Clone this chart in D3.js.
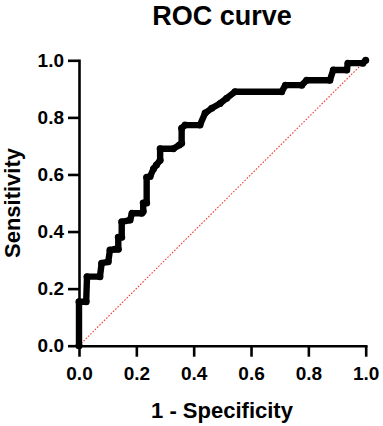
<!DOCTYPE html>
<html><head><meta charset="utf-8">
<script src="https://cdn.jsdelivr.net/npm/d3@7"></script>
<style>
html,body{margin:0;padding:0;background:#fff;}
svg{display:block;}
text{font-family:"Liberation Sans",Arial,Helvetica,sans-serif;font-weight:bold;fill:#000;}
</style></head>
<body>
<svg id="chart" width="383" height="426"></svg>
<script>
const title = "ROC curve";
const xLabel = "1 - Specificity";
const yLabel = "Sensitivity";
const tickValues = [0, 0.2, 0.4, 0.6, 0.8, 1.0];

// ROC curve points (1 - specificity, sensitivity)
const fpr = [0, 0, 0.025, 0.028, 0.073, 0.079, 0.102, 0.108, 0.125, 0.137, 0.137, 0.149, 0.149, 0.178, 0.185, 0.219, 0.224, 0.224, 0.236, 0.236, 0.248, 0.26, 0.27, 0.283, 0.283, 0.329, 0.35, 0.358, 0.358, 0.37, 0.422, 0.44, 0.463, 0.492, 0.515, 0.544, 0.707, 0.72, 0.777, 0.794, 0.875, 0.887, 0.934, 0.938, 0.99, 1.0];
const tpr = [0, 0.154, 0.154, 0.242, 0.242, 0.289, 0.294, 0.335, 0.338, 0.338, 0.38, 0.38, 0.434, 0.44, 0.464, 0.464, 0.47, 0.50, 0.50, 0.59, 0.593, 0.62, 0.633, 0.65, 0.69, 0.69, 0.703, 0.709, 0.762, 0.773, 0.773, 0.815, 0.832, 0.849, 0.867, 0.89, 0.89, 0.913, 0.913, 0.93, 0.93, 0.966, 0.966, 0.99, 0.99, 1.0];
// reference line
const refX = [0, 1];
const refY = [0, 1];

const svg = d3.select("#chart");
const x = d3.scaleLinear().domain([0, 1]).range([79, 365.7]);
const y = d3.scaleLinear().domain([0, 1]).range([345.7, 60.3]);

// reference diagonal
svg.append("path")
  .datum(refX.map((d, i) => [d, refY[i]]))
  .attr("d", d3.line().x(d => x(d[0])).y(d => y(d[1])))
  .attr("fill", "none")
  .attr("stroke", "#f03c32")
  .attr("stroke-width", 1.1)
  .attr("stroke-dasharray", "1.6,1.6");

// axes
const fmt = d3.format(".1f");
const xAxis = svg.append("g").attr("transform", `translate(0,${y(0)})`)
  .call(d3.axisBottom(x).tickValues(tickValues).tickFormat(fmt).tickSize(11).tickSizeOuter(0).tickPadding(10));
const yAxis = svg.append("g").attr("transform", `translate(${x(0)},0)`)
  .call(d3.axisLeft(y).tickValues(tickValues).tickFormat(fmt).tickSize(11).tickSizeOuter(0).tickPadding(4));
[xAxis, yAxis].forEach(g => {
  g.select(".domain").attr("stroke", "#000").attr("stroke-width", 2.6).attr("stroke-linecap", "square");
  g.selectAll(".tick line").attr("stroke", "#000").attr("stroke-width", 2.6);
  g.selectAll(".tick text").attr("font-size", 19).attr("font-weight", "bold")
    .attr("font-family", "'Liberation Sans', Arial, sans-serif").attr("fill", "#000");
});

// ROC curve
const pts = fpr.map((d, i) => [d, tpr[i]]);
svg.append("path")
  .datum(pts)
  .attr("d", d3.line().x(d => x(d[0])).y(d => y(d[1])))
  .attr("fill", "none")
  .attr("stroke", "#000")
  .attr("stroke-width", 6.4)
  .attr("stroke-linejoin", "round")
  .attr("stroke-linecap", "round");
svg.append("g").selectAll("circle").data(pts).join("circle")
  .attr("cx", d => x(d[0])).attr("cy", d => y(d[1])).attr("r", 3.5).attr("fill", "#000");

// titles
svg.append("text").attr("x", 222).attr("y", 25).attr("text-anchor", "middle")
  .attr("font-size", 27).text(title);
svg.append("text").attr("x", 222).attr("y", 418).attr("text-anchor", "middle")
  .attr("font-size", 22).text(xLabel);
svg.append("text").attr("transform", "translate(20,203) rotate(-90)").attr("text-anchor", "middle")
  .attr("font-size", 22).text(yLabel);
</script>
</body></html>
